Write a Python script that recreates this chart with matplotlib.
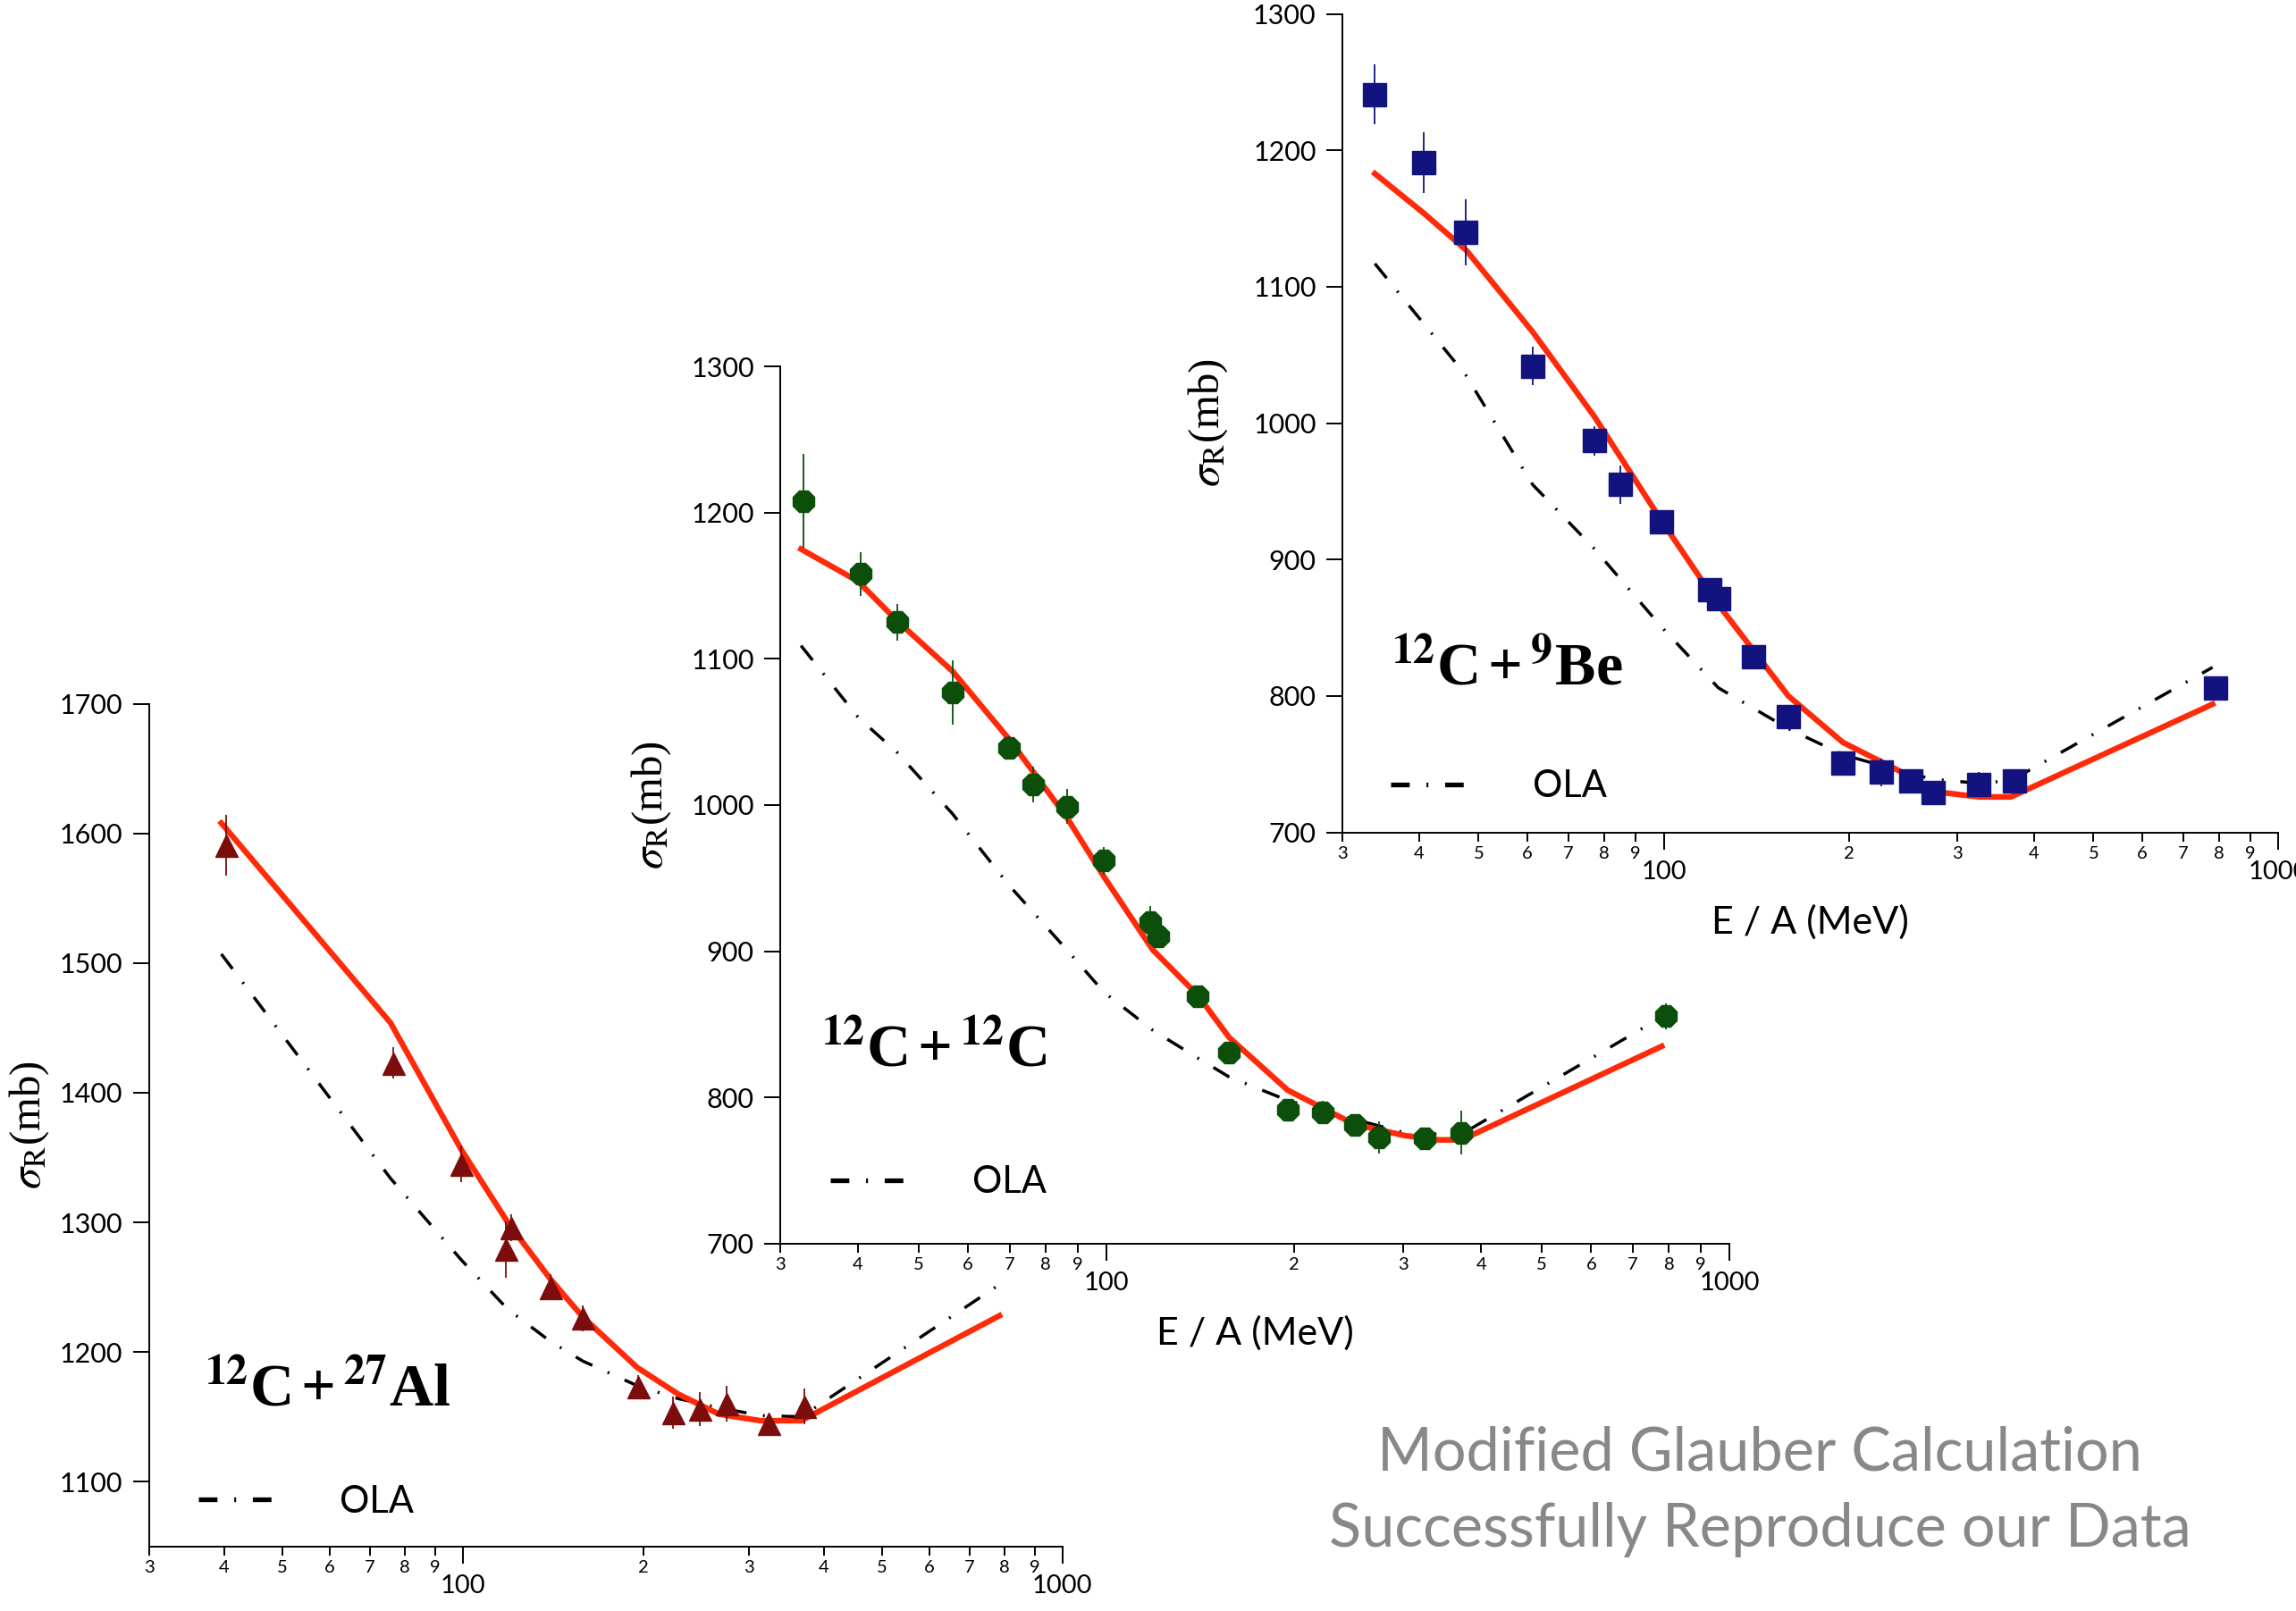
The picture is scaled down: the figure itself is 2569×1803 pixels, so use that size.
import numpy as np
import matplotlib.pyplot as plt
from matplotlib.ticker import FixedLocator, FixedFormatter
from matplotlib.lines import Line2D

plt.rcParams['mathtext.fontset'] = 'stix'
plt.rcParams['lines.scale_dashes'] = False
plt.rcParams['font.family'] = ['Lato', 'DejaVu Sans']

# ---- 12C + 27Al ----
al_e = [40.3, 76.6, 99.5, 118.0, 120.5, 140.0, 158.5, 196.0, 224.5, 248.7, 275.7, 323.6, 370.8]
al_sig = [1591, 1423, 1345, 1279, 1296, 1250, 1226, 1173, 1153, 1156, 1160, 1145, 1158]
al_err = [23.5, 12, 14, 22, 10.5, 10, 10, 9, 12.5, 13, 14, 5, 14]
al_grid = [39.6, 75.8, 99.5, 118.9, 140.2, 158.6, 195.5, 228.8, 267.6, 313.6, 366.9, 785.5]
al_calc = [1608, 1454, 1356, 1300, 1256, 1227, 1188, 1167.5, 1152, 1147, 1147, 1228]
al_ola = [1507, 1334, 1271, 1233, 1208, 1193, 1174, 1164, 1157, 1151, 1150, 1252]

# ---- 12C + 12C ----
cc_e = [32.7, 40.4, 46.2, 56.7, 69.9, 76.5, 86.5, 99.2, 117.8, 121.1, 140.3, 157.6,
        195.6, 223.0, 250.4, 274.0, 324.5, 372.0, 791.0]
cc_sig = [1208, 1158, 1125, 1077, 1039, 1014, 999, 962, 920, 910, 869.5, 830.5,
          791.5, 790, 781, 772.6, 772, 776, 855.6]
cc_err = [32, 15, 12.5, 22, 8, 12, 12, 9.5, 11, 4, 5, 5, 4, 8, 4, 11, 6, 15, 9]
cc_grid = [32.4, 40.0, 46.2, 56.7, 69.9, 86.5, 99.2, 118.8, 140.3, 157.6, 195.6, 250.4, 301.0, 341.0, 372.0, 779.0]
cc_calc = [1175, 1153, 1126, 1091.5, 1045, 991.5, 951, 901, 870, 841, 805, 781.6, 774, 771, 771, 835]
cc_ola = [1109, 1060, 1036, 994, 945, 901, 872, 846, 827, 814, 798, 785, 776, 775, 775, 855]

# ---- 12C + 9Be ----
be_e = [33.9, 40.7, 47.7, 61.2, 77.1, 84.9, 99.0, 118.7, 122.7, 140.1, 159.5, 195.6,
        225.9, 251.9, 274.6, 325.7, 371.7, 790.0]
be_sig = [1241, 1191, 1140, 1042, 987, 955, 927.5, 878, 871.4, 828.7, 785, 750.6,
          744, 738, 729, 735, 738, 805.7]
be_err = [22, 22, 24, 14, 11, 14, 8, 6, 5, 6, 5, 4, 10, 6, 7, 9, 7, 8]
be_grid = [33.9, 40.7, 47.7, 61.2, 77.1, 99.0, 122.7, 159.5, 195.6, 251.9, 274.6, 325.7, 367.0, 781.0]
be_calc = [1183, 1154, 1127, 1067, 1005, 929, 867, 800, 766, 741, 730, 726, 726, 794]
be_ola = [1117, 1073, 1035, 955, 908, 851, 806, 776, 757, 743, 739, 736, 738, 821]

minor_x = [30, 40, 50, 60, 70, 80, 90, 200, 300, 400, 500, 600, 700, 800, 900]
minor_lab = ['3', '4', '5', '6', '7', '8', '9', '2', '3', '4', '5', '6', '7', '8', '9']
major_x = [100, 1000]
major_lab = ['100', '1000']

red = '#ff2a0a'
ola_ls = (0, (15, 13.5, 1.5, 13.5))

fig = plt.figure(figsize=(25.69, 18.03), dpi=100)


def panel(rect, e, sig, err, grid, calc, ola, ylim, yticks, color, marker, ms,
          title, tpos, legpos, ylab_x, xlabel):
    ax = fig.add_axes(rect)
    ax.plot(grid, ola, color='black', lw=2.5, ls=ola_ls, zorder=2)
    ax.plot(grid, calc, color=red, lw=4.6, zorder=3)
    ax.errorbar(e, sig, yerr=err, fmt=marker, color=color, ms=ms, mec=color,
                elinewidth=1.3, capsize=0, zorder=4)
    ax.set_xscale('log')
    ax.set_xlim(30, 1000)
    ax.set_ylim(*ylim)
    ax.set_yticks(yticks)
    ax.xaxis.set_major_locator(FixedLocator(major_x))
    ax.xaxis.set_major_formatter(FixedFormatter(major_lab))
    ax.xaxis.set_minor_locator(FixedLocator(minor_x))
    ax.xaxis.set_minor_formatter(FixedFormatter(minor_lab))
    for s in ['top', 'right']:
        ax.spines[s].set_visible(False)
    for s in ['left', 'bottom']:
        ax.spines[s].set_linewidth(1.4)
    ax.tick_params(axis='y', which='major', length=13, width=1.4, labelsize=22, pad=8)
    ax.tick_params(axis='x', which='major', length=13.5, width=1.4, labelsize=21, pad=9)
    ax.tick_params(axis='x', which='minor', length=7, width=1.4, labelsize=14.5, pad=4)
    ax.set_ylabel(r'$\sigma_{\mathrm{R}}$(mb)', family='Liberation Serif', fontsize=35)
    ax.yaxis.label.set_va('center')
    ax.yaxis.set_label_coords(ylab_x, 0.5)
    if xlabel:
        ax.set_xlabel('E / A (MeV)', fontsize=31)
        ax.xaxis.label.set_va('center')
        ax.xaxis.set_label_coords(0.5, -100 / (rect[3] * 1803))
    ax.text(tpos[0], tpos[1], title, transform=ax.transAxes, fontsize=49,
            family='Liberation Serif', weight='bold', va='baseline')
    h = Line2D([], [], color='black', lw=3.8, ls=ola_ls)
    ax.legend([h], ['OLA'], loc='center left', bbox_to_anchor=legpos,
              frameon=False, fontsize=30, handlelength=2.0, handletextpad=1.8,
              borderpad=0, borderaxespad=0)
    return ax


panel([0.0649, 0.0401, 0.3978, 0.5230], al_e, al_sig, al_err, al_grid, al_calc, al_ola,
      (1050, 1700), range(1100, 1701, 100), '#7c0d0d', '^', 18,
      r'$^{\mathbf{12}}$C$\,$+$\,^{\mathbf{27}}$Al', (0.0598, 0.1664), (0.054, 0.053), -0.131, False)

panel([0.3398, 0.2280, 0.4134, 0.5446], cc_e, cc_sig, cc_err, cc_grid, cc_calc, cc_ola,
      (700, 1300), range(700, 1301, 100), '#0b4f0b', '8', 18,
      r'$^{\mathbf{12}}$C$\,$+$\,^{\mathbf{12}}$C', (0.042, 0.202), (0.053, 0.07), -0.1356, True)

panel([0.5846, 0.4833, 0.4078, 0.5080], be_e, be_sig, be_err, be_grid, be_calc, be_ola,
      (700, 1300), range(700, 1301, 100), '#131380', 's', 19,
      r'$^{\mathbf{12}}$C$\,$+$\,^{\mathbf{9}}$Be', (0.0518, 0.180), (0.052, 0.056), -0.143, True)

fig.text(1969 / 2569, 1 - 1645 / 1803, 'Modified Glauber Calculation',
         ha='center', va='baseline', color='#888888', fontsize=48)
fig.text(1969 / 2569, 1 - 1731 / 1803, 'Successfully Reproduce our Data',
         ha='center', va='baseline', color='#888888', fontsize=48)

fig.savefig('out.png', dpi=100)
